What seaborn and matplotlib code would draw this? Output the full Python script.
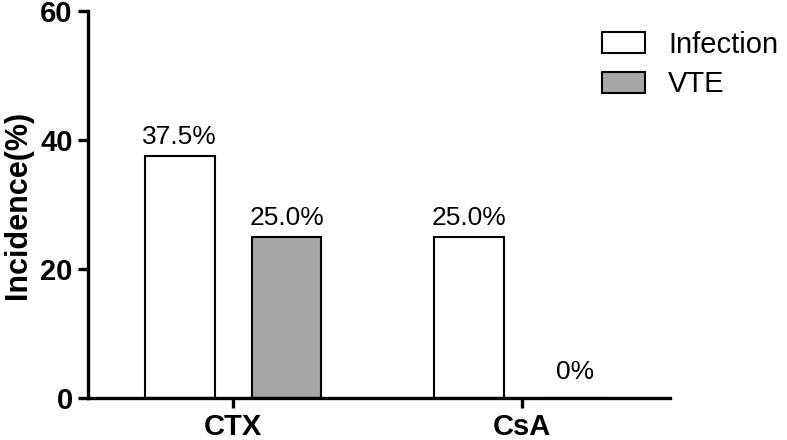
import matplotlib
matplotlib.use("Agg")
import matplotlib.pyplot as plt
import seaborn as sns
import pandas as pd

groups = ["CTX", "CsA"]
series = ["Infection", "VTE"]
infection = [37.5, 25.0]
vte = [25.0, 0.0]
infection_labels = ["37.5%", "25.0%"]
vte_labels = ["25.0%", "0%"]
colors = {"Infection": "#ffffff", "VTE": "#a6a6a6"}
yticks = [0, 20, 40, 60]

df = pd.DataFrame({
    "group": groups * 2,
    "type": [series[0]] * len(groups) + [series[1]] * len(groups),
    "value": infection + vte,
})

sns.set_style("ticks")
plt.rcParams["font.family"] = ["Liberation Sans", "DejaVu Sans"]
for k in ["text.color", "axes.labelcolor", "xtick.color", "ytick.color",
          "axes.edgecolor"]:
    plt.rcParams[k] = "black"

fig = plt.figure(figsize=(7.87, 4.4), dpi=100)
ax = fig.add_axes([0.1118, 0.0955, 0.7395, 0.8795])

sns.barplot(data=df, x="group", y="value", hue="type", order=groups,
            hue_order=series, palette=colors, edgecolor="black",
            linewidth=1.5, width=0.74, gap=0.346, ax=ax, legend=True)

for cont, labs, vals in zip(ax.containers, [infection_labels, vte_labels],
                            [infection, vte]):
    texts = ax.bar_label(cont, labels=labs, padding=5, fontsize=19,
                         color="black")
    for t, v in zip(texts, vals):
        if v == 0:
            t.xyann = (0, 10)

ax.set_xlim(-0.502, 1.512)
ax.set_ylim(0, 60)
ax.set_yticks(yticks)
ax.set_xlabel("")
ax.set_ylabel("Incidence(%)", fontsize=22, fontweight="bold", labelpad=5,
              color="black")

sns.despine(ax=ax)
for s in ["left", "bottom"]:
    ax.spines[s].set_linewidth(2.4)
    ax.spines[s].set_color("black")
ax.tick_params(axis="both", direction="out", length=7, width=2.4,
               labelsize=21, colors="black")
ax.tick_params(axis="y", pad=4)
ax.tick_params(axis="x", pad=4, labelsize=21)
for t in ax.get_xticklabels() + ax.get_yticklabels():
    t.set_fontweight("bold")

leg = ax.legend(loc="upper left", bbox_to_anchor=(602 / 787, 0.93),
                bbox_transform=fig.transFigure, frameon=False, fontsize=21,
                borderpad=0, borderaxespad=0, handlelength=1.47,
                handleheight=0.72, handletextpad=0.8, labelspacing=0.4)
for t in leg.get_texts():
    t.set_color("black")
for h in leg.legend_handles:
    h.set_edgecolor("black")
    h.set_linewidth(1.5)

fig.savefig("out.png", dpi=100)
